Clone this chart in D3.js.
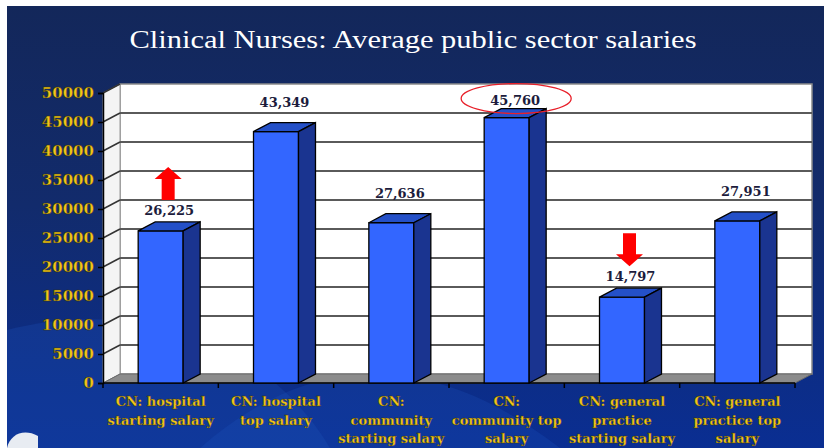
<!DOCTYPE html>
<html>
<head>
<meta charset="utf-8">
<script src="https://cdn.jsdelivr.net/npm/d3@7"></script>
<style>
  html, body { margin: 0; padding: 0; background: #fff; }
  svg { display: block; }
</style>
</head>
<body>
<div id="chart"></div>
<script>
// chart data
const categories = ['hs', 'ht', 'cs', 'ct', 'gs', 'gt'];
const labelLines = [
  ['CN: hospital', 'starting salary'],
  ['CN: hospital', 'top salary'],
  ['CN:', 'community', 'starting salary'],
  ['CN:', 'community top', 'salary'],
  ['CN: general', 'practice', 'starting salary'],
  ['CN: general', 'practice top', 'salary']
];
const salaries = [26225, 43349, 27636, 45760, 14797, 27951];
const yTicks = [0, 5000, 10000, 15000, 20000, 25000, 30000, 35000, 40000, 45000, 50000];
const arrowUp = ['hs'];
const arrowDown = ['gs'];
const circled = ['ct'];
// labels next to the annotations were dragged closer to their bars
const labelGap = [7, 16, 16, 4, 7, 16];
const title = 'Clinical Nurses: Average public sector salaries';

const W = 824, H = 448;
const plotLeft = 103, plotRight = 795, plotBottom = 383, plotTop = 93;
const dx = 17, dy = -9;   // 3d depth offset

const svg = d3.select('#chart').append('svg')
  .attr('width', W).attr('height', H);

const defs = svg.append('defs');
const bg = defs.append('linearGradient').attr('id', 'bg')
  .attr('x1', 0).attr('y1', 0).attr('x2', 0).attr('y2', 1);
bg.append('stop').attr('offset', '0%').attr('stop-color', '#13275a');
bg.append('stop').attr('offset', '45%').attr('stop-color', '#122b6c');
bg.append('stop').attr('offset', '100%').attr('stop-color', '#0a2e92');

// slide background
svg.append('rect').attr('width', W).attr('height', H).attr('fill', '#fff');
svg.append('rect').attr('x', 7).attr('y', 6).attr('width', W - 7).attr('height', H - 6)
  .attr('fill', 'url(#bg)');
svg.append('path')
  .attr('d', 'M7,330 C120,300 260,330 330,448 L7,448 Z')
  .attr('fill', '#1a4bb0').attr('opacity', 0.35);
svg.append('path')
  .attr('d', 'M200,448 C300,360 420,340 560,448 Z')
  .attr('fill', '#1d55c0').attr('opacity', 0.25);
svg.append('path')
  .attr('d', 'M7,448 C10,434 24,428 38,436 L38,448 Z')
  .attr('fill', '#e8ecf2');

svg.append('text')
  .attr('x', 413).attr('y', 48)
  .attr('text-anchor', 'middle')
  .attr('textLength', 567).attr('lengthAdjust', 'spacingAndGlyphs')
  .attr('font-family', 'Liberation Serif, serif')
  .attr('font-size', 25)
  .attr('fill', '#ffffff')
  .text(title);

// scales
const x = d3.scaleBand().domain(categories).range([plotLeft, plotRight]).padding(0);
const y = d3.scaleLinear().domain([0, 50000]).range([plotBottom, plotTop]);
const barW = x.step() * 0.39;

// back wall
svg.append('rect')
  .attr('x', plotLeft + dx).attr('y', plotTop + dy)
  .attr('width', plotRight - plotLeft).attr('height', plotBottom - plotTop)
  .attr('fill', '#ffffff').attr('stroke', '#8a8a8a').attr('stroke-width', 1.5);

// left wall
svg.append('path')
  .attr('d', `M${plotLeft},${plotTop} L${plotLeft + dx},${plotTop + dy} L${plotLeft + dx},${plotBottom + dy} L${plotLeft},${plotBottom} Z`)
  .attr('fill', '#f4f4f4').attr('stroke', '#9a9a9a').attr('stroke-width', 1);

// floor
svg.append('path')
  .attr('d', `M${plotLeft},${plotBottom} L${plotRight},${plotBottom} L${plotRight + dx},${plotBottom + dy} L${plotLeft + dx},${plotBottom + dy} Z`)
  .attr('fill', '#8c8c8c').attr('stroke', '#6a6a6a').attr('stroke-width', 1);

// gridlines
const grid = yTicks.filter(t => t > 0 && t < 50000);
svg.append('g').selectAll('line').data(grid).join('line')
  .attr('x1', plotLeft + dx).attr('x2', plotRight + dx)
  .attr('y1', d => y(d) + dy).attr('y2', d => y(d) + dy)
  .attr('stroke', '#5a5a5a').attr('stroke-width', 2);
svg.append('g').selectAll('line').data(yTicks.filter(t => t > 0)).join('line')
  .attr('x1', plotLeft).attr('x2', plotLeft + dx)
  .attr('y1', d => y(d)).attr('y2', d => y(d) + dy)
  .attr('stroke', '#333').attr('stroke-width', 1.5);

// axes
const yAxis = svg.append('g').attr('transform', `translate(${plotLeft},0)`)
  .call(d3.axisLeft(y).tickValues(yTicks).tickSize(5).tickPadding(4).tickFormat(d3.format('d')));
yAxis.select('.domain').attr('stroke', '#000').attr('stroke-width', 1.5);
yAxis.selectAll('.tick line').attr('stroke', '#000').attr('stroke-width', 1.5);
yAxis.selectAll('.tick text')
  .attr('font-family', 'DejaVu Serif, serif').attr('font-weight', 'bold')
  .attr('font-size', 15).attr('fill', '#f2c619')
  .attr('stroke', '#3a3000').attr('stroke-width', 0.4);

svg.append('line')
  .attr('x1', plotLeft).attr('x2', plotRight).attr('y1', plotBottom).attr('y2', plotBottom)
  .attr('stroke', '#000').attr('stroke-width', 1.5);
svg.append('g').selectAll('line').data(d3.range(categories.length + 1)).join('line')
  .attr('x1', i => plotLeft + i * x.step()).attr('x2', i => plotLeft + i * x.step())
  .attr('y1', plotBottom).attr('y2', plotBottom + 5)
  .attr('stroke', '#000').attr('stroke-width', 1.5);

// bars
const bars = svg.append('g').selectAll('g').data(categories).join('g');
bars.each(function (c, i) {
  const g = d3.select(this);
  const x0 = x(c) + (x.step() - barW) / 2, x1 = x0 + barW;
  const yt = y(salaries[i]);
  g.append('rect')
    .attr('x', x0).attr('y', yt).attr('width', barW).attr('height', plotBottom - yt)
    .attr('fill', '#3366ff').attr('stroke', '#000').attr('stroke-width', 1.3);
  g.append('path')
    .attr('d', `M${x0},${yt} L${x0 + dx},${yt + dy} L${x1 + dx},${yt + dy} L${x1},${yt} Z`)
    .attr('fill', '#2450c8').attr('stroke', '#000').attr('stroke-width', 1.3);
  g.append('path')
    .attr('d', `M${x1},${yt} L${x1 + dx},${yt + dy} L${x1 + dx},${plotBottom + dy} L${x1},${plotBottom} Z`)
    .attr('fill', '#1a3490').attr('stroke', '#000').attr('stroke-width', 1.3);
});

// value labels
const labelX = c => x(c) + (x.step() - barW) / 2 + (barW + dx) / 2;
const labelY = c => {
  const i = categories.indexOf(c);
  return y(salaries[i]) + dy - labelGap[i];
};
svg.append('g').selectAll('text').data(categories).join('text')
  .attr('x', labelX).attr('y', labelY)
  .attr('text-anchor', 'middle')
  .attr('font-family', 'DejaVu Serif, serif').attr('font-weight', 'bold')
  .attr('font-size', 13).attr('fill', '#1c1c3c')
  .text((c, i) => d3.format(',')(salaries[i]));

// category labels
const cl = svg.append('g').selectAll('text').data(categories).join('text')
  .attr('x', c => x(c) + x.step() / 2)
  .attr('text-anchor', 'middle')
  .attr('font-family', 'DejaVu Serif, serif').attr('font-weight', 'bold')
  .attr('font-size', 13).attr('fill', '#f2c619')
  .attr('stroke', '#3a3000').attr('stroke-width', 0.3);
cl.each(function (c, i) {
  d3.select(this).selectAll('tspan').data(labelLines[i]).join('tspan')
    .attr('x', x(c) + x.step() / 2)
    .attr('y', (d, j) => 406 + j * 18.5)
    .text(d => d);
});

// annotations
function arrow(cx, yTop, yBot, up) {
  const hw = 13.5, sw = 6.5, hh = 12;
  let pts;
  if (up) {
    pts = [[cx, yTop], [cx + hw, yTop + hh], [cx + sw, yTop + hh], [cx + sw, yBot],
           [cx - sw, yBot], [cx - sw, yTop + hh], [cx - hw, yTop + hh]];
  } else {
    pts = [[cx, yBot], [cx + hw, yBot - hh], [cx + sw, yBot - hh], [cx + sw, yTop],
           [cx - sw, yTop], [cx - sw, yBot - hh], [cx - hw, yBot - hh]];
  }
  svg.append('path').attr('d', 'M' + pts.join('L') + 'Z').attr('fill', '#ff0000');
}
arrowUp.forEach(c => arrow(labelX(c) - 1, labelY(c) - 48, labelY(c) - 15, true));
arrowDown.forEach(c => arrow(labelX(c) - 1, labelY(c) - 48, labelY(c) - 15, false));

circled.forEach(c => {
  svg.append('ellipse')
    .attr('cx', labelX(c) + 1).attr('cy', labelY(c) - 6)
    .attr('rx', 55).attr('ry', 15)
    .attr('fill', 'none').attr('stroke', '#e8202a').attr('stroke-width', 1.3);
});
</script>
</body>
</html>
